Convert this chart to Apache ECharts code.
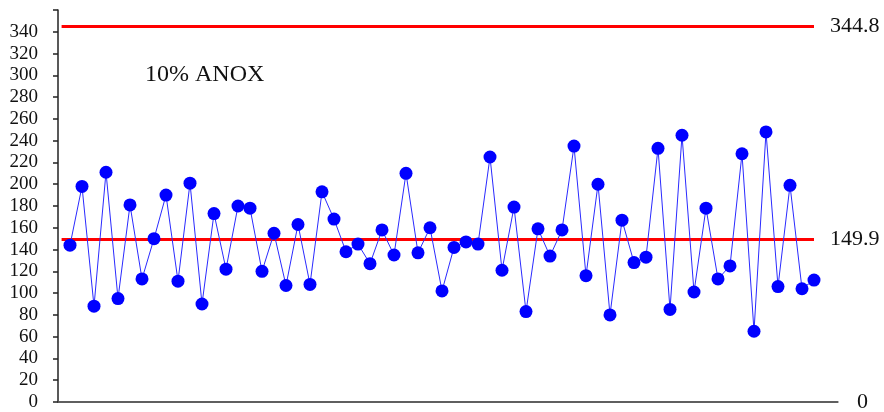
<!DOCTYPE html>
<html>
<head>
<meta charset="utf-8">
<script src="https://cdn.jsdelivr.net/npm/echarts@6/dist/echarts.min.js"></script>
<style>
  html, body { margin: 0; padding: 0; background: #fff; }
  #chart { width: 884px; height: 412px; }
</style>
</head>
<body>
<div id="chart"></div>
<script>
// Individual measurements, in sample order
const samples = [144, 198, 88, 211, 95, 181, 113, 150, 190, 111,
                 201, 90, 173, 122, 180, 178, 120, 155, 107, 163,
                 108, 193, 168, 138, 145, 127, 158, 135, 210, 137,
                 160, 102, 142, 147, 145, 225, 121, 179, 83, 159,
                 134, 158, 235, 116, 200, 80, 167, 128, 133, 233,
                 85, 245, 101, 178, 113, 125, 228, 65, 248, 106,
                 199, 104, 112];
// Control limits
const upperLimit = 344.8;
const centerLine = 149.9;
const lowerLimit = 0;
const chartTitle = '10% ANOX';

const serif = '"Liberation Serif", "DejaVu Serif", serif';
const points = samples.map((v, i) => [i + 1, v]);
const xEnd = samples.length;

function limitLine(value, color, startX, endX, width, dist) {
  return [
    { coord: [startX, value], lineStyle: { color: color, width: width, type: 'solid' },
      label: { show: true, position: 'end', formatter: String(value), distance: dist,
               color: '#111', fontFamily: serif, fontSize: 22 } },
    { coord: [endX, value] }
  ];
}

const chart = echarts.init(document.getElementById('chart'));
chart.setOption({
  animation: false,
  backgroundColor: '#fff',
  title: {
    text: chartTitle,
    left: 140,
    top: 58,
    textStyle: { fontFamily: serif, fontSize: 24, fontWeight: 'normal', color: '#111' }
  },
  grid: { left: 58, right: 46, top: 10, bottom: 10 },
  xAxis: {
    type: 'value',
    min: 0,
    max: xEnd + 2,
    axisLine: { show: true, lineStyle: { color: '#555', width: 1.5 } },
    axisTick: { show: false },
    axisLabel: { show: false },
    splitLine: { show: false }
  },
  yAxis: {
    type: 'value',
    min: 0,
    max: 360,
    interval: 20,
    axisLine: { show: true, lineStyle: { color: '#222', width: 1.5 } },
    axisTick: { show: true, length: 5, lineStyle: { color: '#222', width: 1.5 } },
    axisLabel: {
      margin: 20,
      color: '#111',
      fontFamily: serif,
      fontSize: 19,
      formatter: v => (v >= 360 ? '' : String(v))
    },
    splitLine: { show: false }
  },
  series: [{
    type: 'line',
    data: points,
    symbol: 'circle',
    symbolSize: 13,
    itemStyle: { color: '#0000ff' },
    lineStyle: { color: '#2a2aff', width: 1 },
    z: 3,
    markLine: {
      silent: true,
      symbol: ['none', 'none'],
      z: 2,
      data: [
        limitLine(upperLimit, '#ff0000', 0.3, xEnd, 3, 16),
        limitLine(centerLine, '#ff0000', 0.3, xEnd, 3, 16),
        limitLine(lowerLimit, '#555', 0, xEnd + 2, 1.5, 19)
      ]
    }
  }]
});
</script>
</body>
</html>
